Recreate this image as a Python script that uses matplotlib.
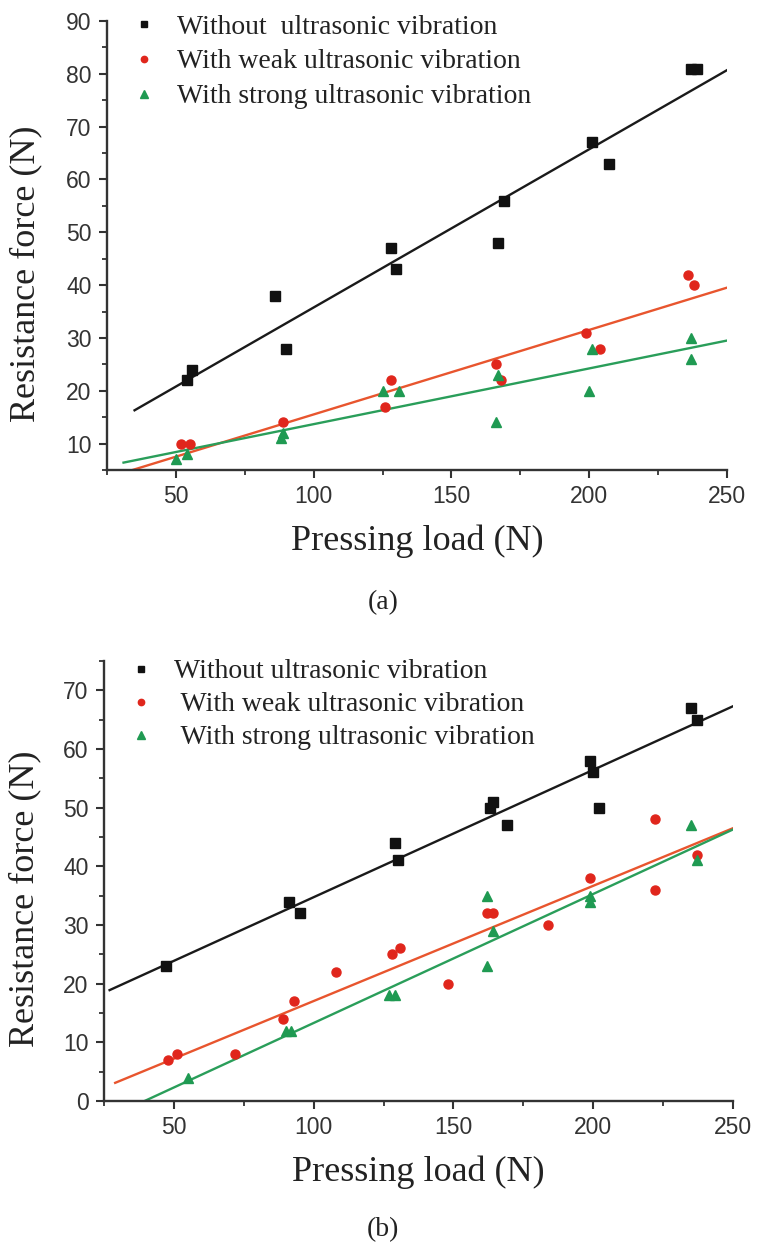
import numpy as np
import matplotlib
matplotlib.use("Agg")
import matplotlib.pyplot as plt
from matplotlib.ticker import MultipleLocator

# Panel (a): pressing load vs resistance force
a_black_x = [54, 56, 86, 90, 128, 130, 167, 169, 201, 207, 237, 239]
a_black_y = [22, 24, 38, 28, 47, 43, 48, 56, 67, 63, 81, 81]
a_red_x = [52, 55, 89, 126, 128, 166, 168, 199, 204, 236, 238]
a_red_y = [10, 10, 14, 17, 22, 25, 22, 31, 28, 42, 40]
a_green_x = [50, 54, 88, 89, 125, 131, 166, 167, 200, 201, 237, 237]
a_green_y = [7, 8, 11, 12, 20, 20, 14, 23, 20, 28, 30, 26]
# linear fits (slope, intercept, x start)
a_fits = [(0.2995, 5.82, 35), (0.160, -0.48, 33), (0.1055, 3.13, 31)]
a_yticks = [10, 20, 30, 40, 50, 60, 70, 80, 90]

# Panel (b)
b_black_x = [47, 91, 95, 129, 130, 163, 164, 169, 199, 200, 202, 235, 237]
b_black_y = [23, 34, 32, 44, 41, 50, 51, 47, 58, 56, 50, 67, 65]
b_red_x = [48, 51, 72, 89, 93, 108, 128, 131, 148, 162, 164, 184, 199, 222, 222, 237]
b_red_y = [7, 8, 8, 14, 17, 22, 25, 26, 20, 32, 32, 30, 38, 48, 36, 42]
b_green_x = [55, 90, 92, 127, 129, 162, 162, 164, 199, 199, 235, 237]
b_green_y = [4, 12, 12, 18, 18, 23, 35, 29, 35, 34, 47, 41]
b_fits = [(0.217, 13.04, 27), (0.1964, -2.6, 29), (0.2199, -8.69, 39.5)]
b_yticks = [0, 10, 20, 30, 40, 50, 60, 70]

xticks = [50, 100, 150, 200, 250]

labels_a = ["Without  ultrasonic vibration", "With weak ultrasonic vibration",
            "With strong ultrasonic vibration"]
labels_b = ["Without ultrasonic vibration", " With weak ultrasonic vibration",
            " With strong ultrasonic vibration"]

mark_cols = ["#111111", "#e0261c", "#1f9a52"]
line_cols = ["#1a1a1a", "#e8552e", "#2a9e5a"]
markers = ["s", "o", "^"]
msizes = [6.5, 6.5, 7.5]

serif = ["Liberation Serif", "DejaVu Serif"]
sans = ["Liberation Sans Narrow", "Liberation Sans", "DejaVu Sans"]

fig = plt.figure(figsize=(7.58, 12.49), dpi=100)
ax1 = fig.add_axes([107 / 758, 1 - 470 / 1249, 620 / 758, 449 / 1249])
ax2 = fig.add_axes([104 / 758, 1 - 1101 / 1249, 629 / 758, 440 / 1249])


def panel(ax, xs, ys, fits, labels, ylim, yticks, legend_anchor, lspace, ylab_xy):
    for i in range(3):
        ax.plot(xs[i], ys[i], linestyle="none", marker=markers[i], ms=msizes[i],
                color=mark_cols[i], label=labels[i], zorder=3)
    for i, (k, b, x0) in enumerate(fits):
        xx = np.array([x0, 250])
        ax.plot(xx, k * xx + b, color=line_cols[i], lw=1.7, zorder=2)
    ax.set_xlim(25, 250)
    ax.set_ylim(*ylim)
    ax.set_xticks(xticks)
    ax.set_yticks(yticks)
    ax.xaxis.set_minor_locator(MultipleLocator(25))
    ax.yaxis.set_minor_locator(MultipleLocator(5))
    for s in ["top", "right"]:
        ax.spines[s].set_visible(False)
    for s in ["left", "bottom"]:
        ax.spines[s].set_linewidth(1.7)
        ax.spines[s].set_color("#333333")
    ax.tick_params(which="major", direction="out", length=6, width=1.5,
                   labelsize=16.5, colors="#333333", pad=5)
    ax.tick_params(which="minor", direction="out", length=3.5, width=1.3,
                   colors="#333333")
    for t in ax.get_xticklabels() + ax.get_yticklabels():
        t.set_family(sans)
    ax.set_xlabel("Pressing load (N)", family=serif, fontsize=26, color="#222222",
                  labelpad=12)
    ax.set_ylabel("Resistance force (N)", family=serif, fontsize=26, color="#222222")
    ax.yaxis.set_label_coords(*ylab_xy)
    leg = ax.legend(loc="upper left", bbox_to_anchor=legend_anchor, frameon=False,
                    prop={"family": serif, "size": 20}, markerscale=0.7,
                    handlelength=1.0, handletextpad=0.7, labelspacing=lspace,
                    borderaxespad=0)
    for t in leg.get_texts():
        t.set_color("#222222")


panel(ax1, [a_black_x, a_red_x, a_green_x], [a_black_y, a_red_y, a_green_y],
      a_fits, labels_a, (5, 90), a_yticks, (0.019, 1.04), 0.34, (-0.105, 0.438))
panel(ax2, [b_black_x, b_red_x, b_green_x], [b_black_y, b_red_y, b_green_y],
      b_fits, labels_b, (0, 75), b_yticks, (0.019, 1.03), 0.27, (-0.099, 0.459))

fig.text(383 / 758, 1 - 603 / 1249, "(a)", family=serif, fontsize=20,
         ha="center", va="center", color="#222222")
fig.text(383 / 758, 1 - 1230 / 1249, "(b)", family=serif, fontsize=20,
         ha="center", va="center", color="#222222")

fig.savefig("out.png", dpi=100)
